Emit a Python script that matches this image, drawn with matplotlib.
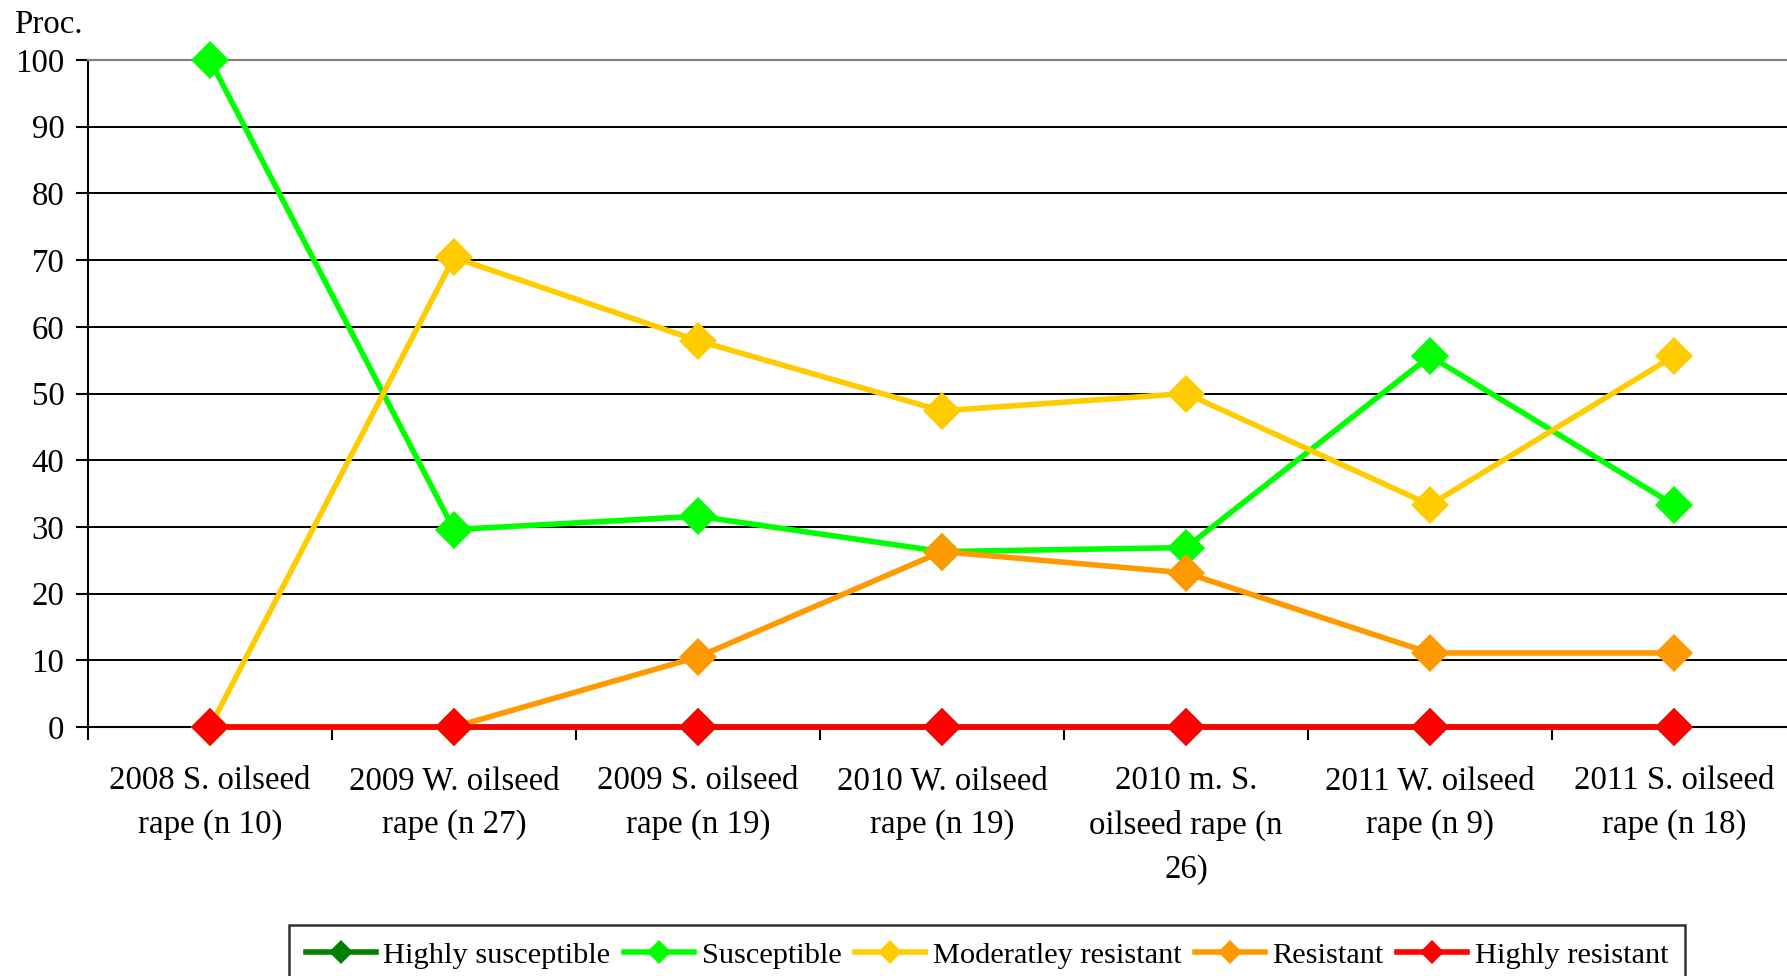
import matplotlib
matplotlib.use("Agg")
import matplotlib.pyplot as plt
from matplotlib.lines import Line2D

categories = ["2008 S. oilseed\nrape (n 10)", "2009 W. oilseed\nrape (n 27)",
              "2009 S. oilseed\nrape (n 19)", "2010 W. oilseed\nrape (n 19)",
              "2010 m. S.\noilseed rape (n\n26)", "2011 W. oilseed\nrape (n 9)",
              "2011 S. oilseed\nrape (n 18)"]
highly_susceptible = [0, 0, 0, 0, 0, 0, 0]
susceptible = [100, 29.6, 31.6, 26.3, 26.9, 55.6, 33.3]
moderately_resistant = [0, 70.4, 57.9, 47.4, 50.0, 33.3, 55.6]
resistant = [0, 0, 10.5, 26.3, 23.1, 11.1, 11.1]
highly_resistant = [0, 0, 0, 0, 0, 0, 0]
series_names = ["Highly susceptible", "Susceptible", "Moderatley resistant", "Resistant", "Highly resistant"]
y_ticks = [0, 10, 20, 30, 40, 50, 60, 70, 80, 90, 100]

colors = ["#008000", "#00FF00", "#FFCC00", "#FF9900", "#FF0000"]
series = [highly_susceptible, susceptible, moderately_resistant, resistant, highly_resistant]

plt.rcParams['font.family'] = ['Liberation Serif', 'DejaVu Serif']
FS = 23.7

W, H = 1787, 976
fig = plt.figure(figsize=(W / 100, H / 100), dpi=100)
ax = fig.add_axes([88 / W, 1 - 727 / H, 1708 / W, 667 / H])

x = list(range(len(categories)))
for vals, col in zip(series, colors):
    ax.plot(x, vals, color=col, lw=4.0, marker='D', markersize=19,
            markeredgewidth=0, zorder=3, clip_on=False)

ax.set_xlim(-0.5, len(categories) - 0.5)
ax.set_ylim(0, 100)
ax.set_yticks(y_ticks)
ax.set_yticklabels([str(v) for v in y_ticks], fontsize=FS)
for v in y_ticks[1:-1]:
    ax.axhline(v, color='black', lw=1.4, zorder=1)

ax.set_xticks(x)
ax.set_xticklabels(categories, fontsize=FS, linespacing=1.55)
ax.tick_params(axis='x', which='major', length=0, pad=28)
ax.set_xticks([i + 0.5 for i in range(-1, len(categories))], minor=True)
ax.tick_params(axis='x', which='minor', length=9, width=1.5, direction='out')
ax.tick_params(axis='y', length=9, width=1.5, direction='out', pad=8)

ax.spines['right'].set_visible(False)
ax.spines['top'].set_color('#808080')
ax.spines['top'].set_linewidth(1.6)
ax.spines['left'].set_linewidth(1.5)
ax.spines['bottom'].set_linewidth(1.5)

fig.text(14 / W, 1 - 25 / H, "Proc.", fontsize=FS, va='center', ha='left')

handles = [Line2D([0], [0], color=c, lw=4.0, marker='D', markersize=12, markeredgewidth=0)
           for c in colors]
leg = fig.legend(handles, series_names, ncol=5, loc='upper left',
                 bbox_to_anchor=(289 / W, 1 - 925 / H), fontsize=21.9,
                 frameon=True, fancybox=False, edgecolor='black',
                 handlelength=2.3, handletextpad=0.25, columnspacing=0.45,
                 borderpad=0.55, borderaxespad=0)
leg.get_frame().set_linewidth(1.8)

fig.savefig("out.png", dpi=100)
